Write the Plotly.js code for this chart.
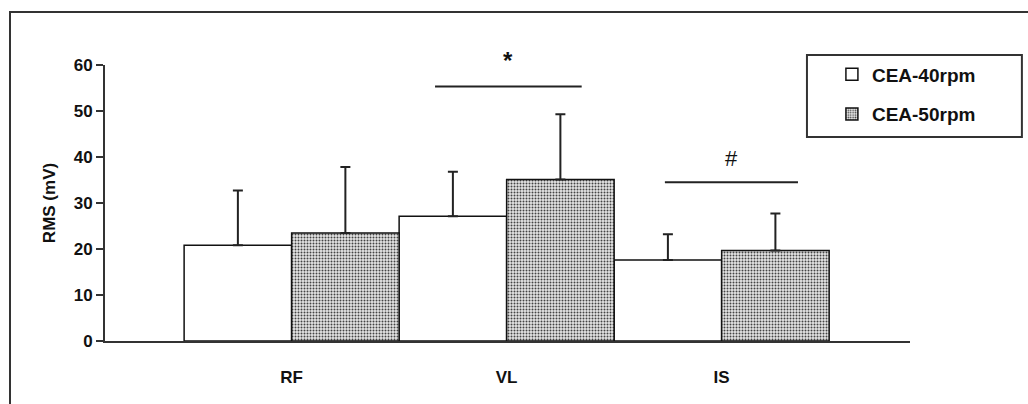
<!DOCTYPE html>
<html>
<head>
<meta charset="utf-8">
<script src="https://cdn.plot.ly/plotly-3.0.1.min.js"></script>
<style>
  html, body { margin: 0; padding: 0; background: #fff; }
  #wrap { position: relative; width: 1028px; height: 404px; overflow: hidden; }
  #frame { position: absolute; left: 9px; top: 11px; width: 1100px; height: 500px;
           border-left: 2px solid #333; border-top: 2px solid #333; pointer-events: none; }
  #chart { position: absolute; left: 0; top: 0; width: 1028px; height: 404px; }
</style>
</head>
<body>
<div id="wrap">
  <div id="frame"></div>
  <div id="chart"></div>
</div>
<script>
// Muscle groups and mean RMS (mV) with standard deviations
const categories = ['RF', 'VL', 'IS'];
const cea40 = [20.8, 27.1, 17.6];
const sd40 = [11.9, 9.7, 5.6];
const cea50 = [23.5, 35.1, 19.7];
const sd50 = [14.3, 14.2, 8.0];
const zeros = [0, 0, 0];

// Significance bars: start, end (category units), height and marker
const sigStart = [0.667, 1.736];
const sigEnd = [1.349, 2.355];
const sigY = [55.3, 34.5];
const sigLabelY = [61.0, 39.6];
const sigLabel = ['*', '#'];
const sigFont = [{size: 24, weight: 'bold'}, {size: 22, weight: 'normal'}];

const yMax = 60;
const idx = categories.map((c, i) => i);
const FONT = '"Liberation Sans", Arial, sans-serif';

const traces = [
  {
    type: 'bar', name: 'CEA-40rpm', x: idx, y: cea40,
    legendgroup: 'a',
    marker: { color: '#ffffff', line: { color: '#111', width: 1.5 } },
    error_y: { type: 'data', symmetric: false, array: sd40, arrayminus: zeros,
               color: '#222', thickness: 2, width: 5 }
  },
  {
    type: 'bar', name: 'CEA-50rpm', x: idx, y: cea50,
    legendgroup: 'b',
    marker: { color: '#ffffff', line: { color: '#111', width: 1.5 },
              pattern: { shape: '.', size: 3, solidity: 0.35, fgcolor: '#444', bgcolor: '#e6e6e6', fillmode: 'replace' } },
    error_y: { type: 'data', symmetric: false, array: sd50, arrayminus: zeros,
               color: '#222', thickness: 2, width: 5 }
  }
];

sigStart.forEach((s, i) => {
  traces.push({
    type: 'scatter', mode: 'lines', x: [s, sigEnd[i]], y: [sigY[i], sigY[i]],
    line: { color: '#222', width: 2 }, showlegend: false, hoverinfo: 'skip', cliponaxis: false
  });
});

// Marker text sits above the bracket; the star lies above the axis top, so place in paper units
const annotations = sigLabel.map((t, i) => ({
  x: (sigStart[i] + sigEnd[i]) / 2, y: sigLabelY[i] / yMax, xref: 'x', yref: 'paper',
  text: t, showarrow: false, xanchor: 'center', yanchor: 'middle',
  font: { family: FONT, size: sigFont[i].size, weight: sigFont[i].weight, color: '#111' }
}));

const layout = {
  width: 1028, height: 404,
  margin: { l: 105, r: 118, t: 65, b: 63 },
  paper_bgcolor: 'rgba(0,0,0,0)', plot_bgcolor: 'rgba(0,0,0,0)',
  barmode: 'group', bargap: 0, bargroupgap: 0,
  font: { family: FONT, color: '#111' },
  xaxis: {
    range: [-0.868, 2.876], tickvals: idx, ticktext: categories,
    showline: true, linecolor: '#333', linewidth: 2, ticks: '',
    showgrid: false, zeroline: false, ticklabelstandoff: 20,
    tickfont: { family: FONT, size: 17, weight: 'bold', color: '#111' }
  },
  yaxis: {
    range: [0, yMax], dtick: 10, ticks: 'outside', ticklen: 7, tickwidth: 2, tickcolor: '#333',
    showline: true, linecolor: '#333', linewidth: 2, showgrid: false, zeroline: false,
    tickfont: { family: FONT, size: 17, weight: 'bold', color: '#111' },
    title: { text: 'RMS (mV)', standoff: 14, font: { family: FONT, size: 17, weight: 'bold', color: '#111' } }
  },
  showlegend: true,
  legend: {
    x: 0.903, y: 1.035, xanchor: 'left', yanchor: 'top',
    bgcolor: 'rgba(0,0,0,0)', borderwidth: 0, tracegroupgap: 12,
    font: { family: FONT, size: 19, weight: 'bold', color: '#111' }
  },
  shapes: [{
    type: 'rect', xref: 'paper', yref: 'paper',
    x0: 0.872, x1: 1.139, y0: 0.739, y1: 1.036,
    line: { color: '#333', width: 2 }, fillcolor: 'rgba(0,0,0,0)'
  }],
  annotations: annotations
};

Plotly.newPlot('chart', traces, layout, { displayModeBar: false, staticPlot: true });
</script>
</body>
</html>
